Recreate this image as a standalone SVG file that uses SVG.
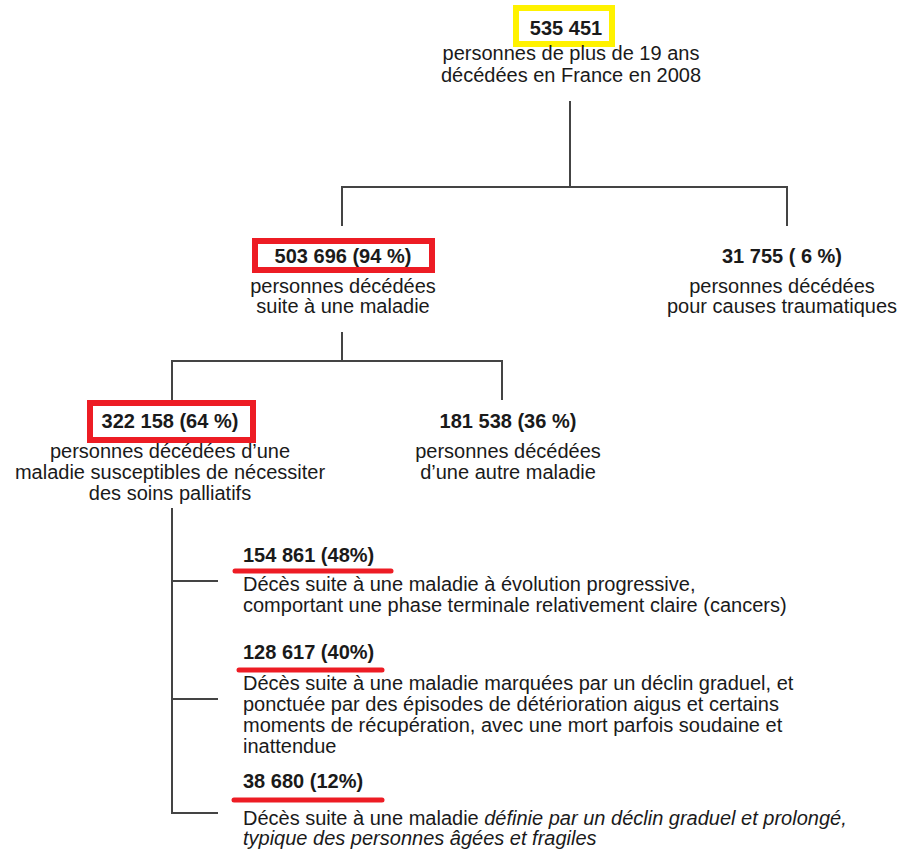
<svg xmlns="http://www.w3.org/2000/svg" width="898" height="849" viewBox="0 0 898 849">
<style>
text{font-family:"Liberation Sans",Arial,sans-serif;font-size:20px;fill:#1a1a1a}
.c{text-anchor:middle}
.b{font-weight:bold}
.i{font-style:italic}
.ln{stroke:#444;stroke-width:2;fill:none}
.rb{fill:none;stroke:#ED1C24;stroke-width:6}
.ul{stroke:#ED1C24;stroke-width:5;stroke-linecap:round}
</style>
<rect width="898" height="849" fill="#fff"/>
<g id="connectors">
<path class="ln" d="M570 101V187M342 226V187H787V226"/>
<path class="ln" d="M342 332V361M172 400V361H502V400"/>
<path class="ln" d="M172 508V813H218M172 581H218M172 699H218"/>
</g>
<g id="root">
<rect x="516" y="8" width="96" height="36" fill="none" stroke="#FFF200" stroke-width="6"/>
<text class="c b" x="566" y="35">535 451</text>
<text class="c" x="571" y="60">personnes de plus de 19 ans</text>
<text class="c" x="571" y="82">décédées en France en 2008</text>
</g>
<g id="maladie">
<rect class="rb" x="255" y="241" width="177" height="29"/>
<text class="c b" x="343" y="263">503 696 (94 %)</text>
<text class="c" x="343" y="293">personnes décédées</text>
<text class="c" x="343" y="313">suite à une maladie</text>
</g>
<g id="traumatique">
<text class="c b" x="782" y="263">31 755 ( 6 %)</text>
<text class="c" x="782" y="293">personnes décédées</text>
<text class="c" x="782" y="313">pour causes traumatiques</text>
</g>
<g id="palliatifs">
<rect class="rb" x="90" y="403" width="163" height="37"/>
<text class="c b" x="170" y="428">322 158 (64 %)</text>
<text class="c" x="170" y="458">personnes décédées d’une</text>
<text class="c" x="170" y="479">maladie susceptibles de nécessiter</text>
<text class="c" x="170" y="500">des soins palliatifs</text>
</g>
<g id="autre">
<text class="c b" x="508" y="428">181 538 (36 %)</text>
<text class="c" x="508" y="458">personnes décédées</text>
<text class="c" x="508" y="479">d’une autre maladie</text>
</g>
<g id="cancers">
<text class="b" x="243" y="562">154 861 (48%)</text>
<line class="ul" x1="235" y1="571" x2="391" y2="571"/>
<text x="243" y="591">Décès suite à une maladie à évolution progressive,</text>
<text x="243" y="612">comportant une phase terminale relativement claire (cancers)</text>
</g>
<g id="declin">
<text class="b" x="243" y="659">128 617 (40%)</text>
<line class="ul" x1="239" y1="670" x2="382" y2="670"/>
<text x="243" y="690">Décès suite à une maladie marquées par un déclin graduel, et</text>
<text x="243" y="711">ponctuée par des épisodes de détérioration aigus et certains</text>
<text x="243" y="732">moments de récupération, avec une mort parfois soudaine et</text>
<text x="243" y="753">inattendue</text>
</g>
<g id="fragiles">
<text class="b" x="243" y="788">38 680 (12%)</text>
<line class="ul" x1="234" y1="800" x2="382" y2="800"/>
<text x="243" y="825">Décès suite à une maladie <tspan class="i">définie par un déclin graduel et prolongé,</tspan></text>
<text class="i" x="243" y="845">typique des personnes âgées et fragiles</text>
</g>
</svg>
